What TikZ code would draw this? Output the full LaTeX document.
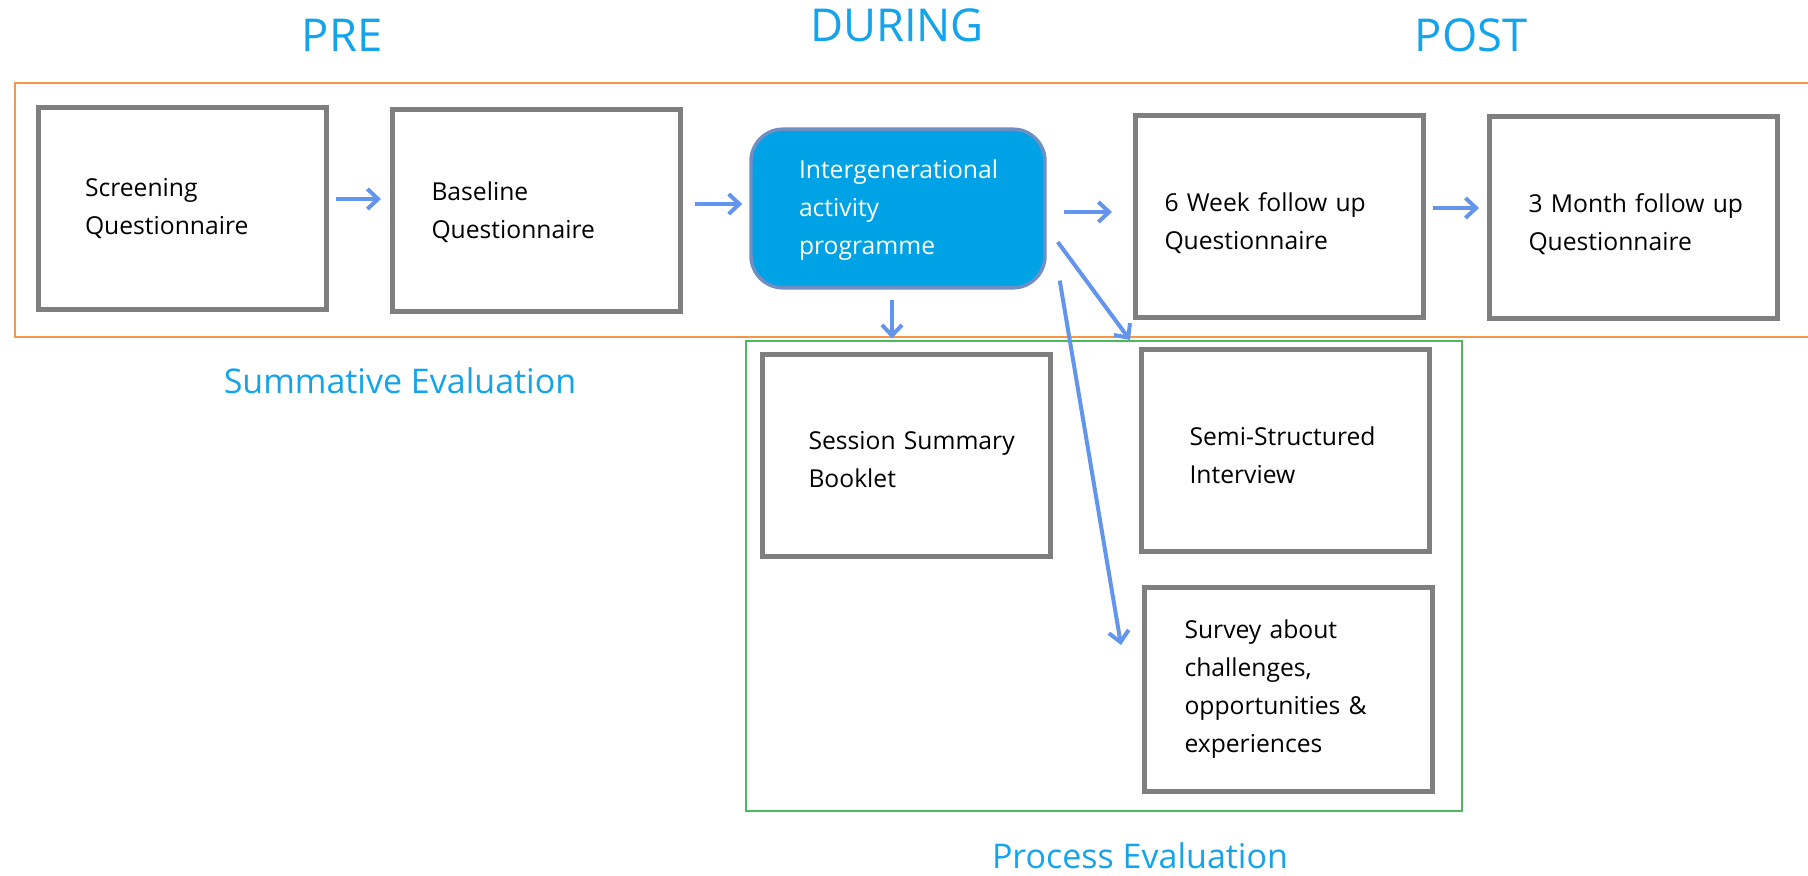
\documentclass[tikz,border=0pt]{standalone}
\usepackage{fontspec}
\setmainfont{Open Sans}
\usetikzlibrary{arrows.meta,calc}
\definecolor{boxgray}{HTML}{7F7F7F}
\definecolor{flowblue}{HTML}{6495ED}
\definecolor{headblue}{HTML}{14A4EC}
\definecolor{progblue}{HTML}{00A2E6}
\definecolor{progedge}{HTML}{6F8FC4}
\definecolor{summorange}{HTML}{F79646}
\definecolor{procgreen}{HTML}{4CB95A}

\begin{document}
\begin{tikzpicture}[x=0.75pt,y=-0.75pt,
  qbox/.style={draw=boxgray, line width=3.75pt, minimum height=151.5pt, inner xsep=0pt, text width=216pt, align=left, execute at begin node={\leftskip=#1\relax}, font=\fontsize{18.5}{28.5}\selectfont},
  flow/.style={draw=flowblue, line width=3pt, -{Straight Barb[length=8pt,width=15pt]}},
  phase/.style={text=headblue, font=\fontsize{34}{40}\selectfont},
  evalnote/.style={text=headblue, inner sep=0pt, anchor=base, font=\fontsize{25.5}{30}\selectfont}]
      \clip (0,0) rectangle (1808,875);
      \draw [summorange, line width=1.5pt] (15,83) rectangle (1840,337);
      \draw [procgreen, line width=1.2pt] (746,341) rectangle (1462,811);

      \node [phase] (pre) at (342,35) {PRE};
      \node [phase] (during) at (897,25) {DURING};
      \node [phase] (post) at (1471,35) {POST};
      \node [evalnote] (summative) at (400,393) {Summative Evaluation};
      \node [evalnote] (process) at (1140,868) {Process Evaluation};

      \node [qbox=35.25pt] (screening) at (182,208.5) {Screening\\Questionnaire};
      \node [qbox=29.25pt, text height=16.5pt] (baseline) at (536.5,210.5) {Baseline\\Questionnaire};
      \node [qbox=36pt, draw=progedge, fill=progblue, line width=2.6pt, rounded corners=24pt, minimum height=119pt, text width=220.5pt, text=white, text height=16.5pt] (programme) at (898,208.5) {Intergenerational\\activity\\programme};
      \node [qbox=21.75pt, text height=24.5pt] (sixweek) at (1279.5,216) {6 Week follow up\\Questionnaire};
      \node [qbox=29.25pt, text height=24.5pt] (threemonth) at (1633.5,217) {3 Month follow up\\Questionnaire};
      \node [qbox=34.5pt, text height=21pt] (booklet) at (906.5,455) {Session Summary\\Booklet};
      \node [qbox=36pt, text height=21.5pt] (interview) at (1285.5,450.5) {Semi-Structured\\Interview};
      \node [qbox=30pt, minimum height=153pt] (survey) at (1288.5,689) {Survey about\\challenges,\\opportunities \&\\experiences};

      \draw [flow] ($(screening.east)+(7,-9.5)$) -- ($(baseline.west)+(-9,-11.5)$);
      \draw [flow] ($(baseline.east)+(12,-6.5)$) -- ($(programme.west)+(-7,-4.5)$);
      \draw [flow] ($(programme.east)+(17,3.5)$) -- ($(sixweek.west)+(-21,-4)$);
      \draw [flow] ($(sixweek.east)+(7,-8)$) -- ($(threemonth.west)+(-8,-9)$);
      \draw [flow] ($(programme.south)+(-6,10)$) -- ($(booklet.north)+(-14.5,-13)$);
      \draw [flow] ($(programme.east)+(11,33.5)$) -- ($(interview.north west)+(-9,-7)$);
      \draw [flow] ($(programme.south east)+(13,-9)$) -- ($(survey.west)+(-21,-44)$);

    \end{tikzpicture}
\end{document}
